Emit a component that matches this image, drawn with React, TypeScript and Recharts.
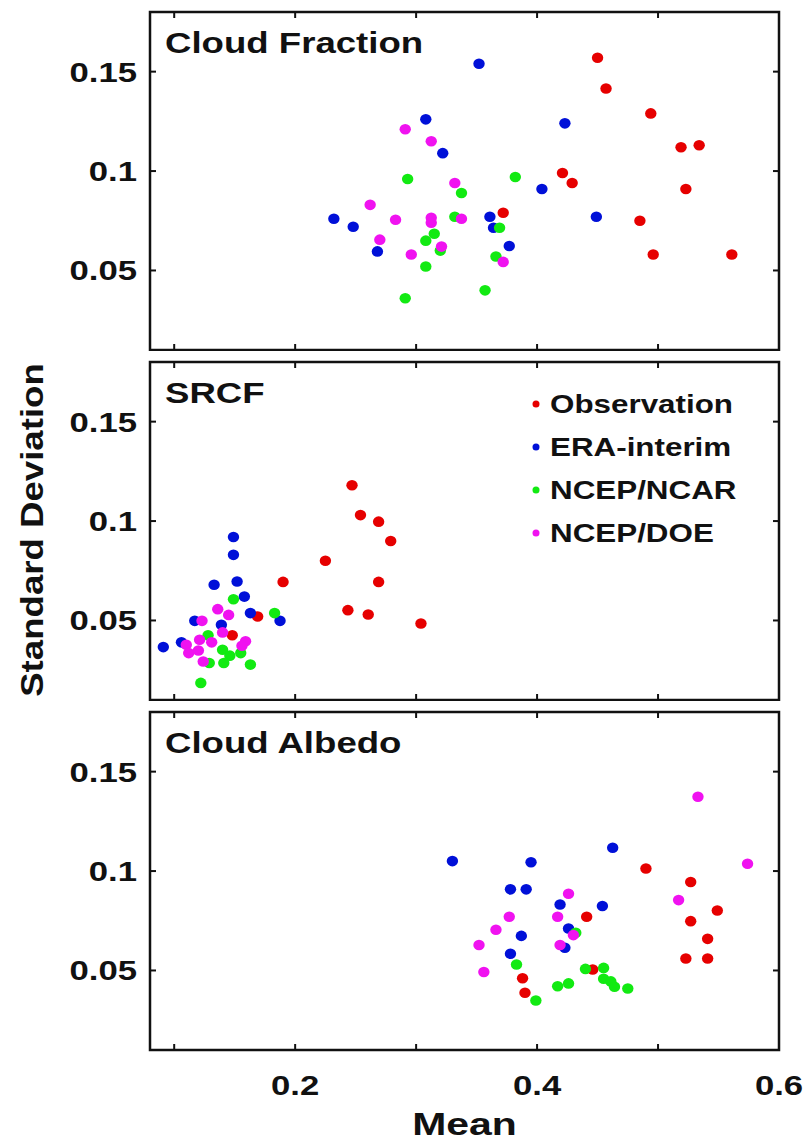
import { ScatterChart, Scatter, XAxis, YAxis, ReferenceArea } from "recharts";

type Pair = [number, number];

const X_TICKS = [0.1, 0.2, 0.3, 0.4, 0.5, 0.6];
const X_LABELLED = [0.2, 0.4, 0.6];
const Y_TICKS = [0.05, 0.1, 0.15];
const X_DOMAIN = [0.08, 0.6];
const Y_DOMAIN = [0.01, 0.18];

const SERIES_NAMES = ["Observation", "ERA-interim", "NCEP/NCAR", "NCEP/DOE"];
const SERIES_COLORS = ["#e60000", "#0010d8", "#12ea12", "#f012f0"];

// [mean, std] per month
const cfObs: Pair[] = [
  [0.45, 0.157], [0.457, 0.1415], [0.494, 0.129], [0.519, 0.112], [0.534, 0.113],
  [0.421, 0.099], [0.429, 0.094], [0.523, 0.091], [0.372, 0.079], [0.485, 0.075],
  [0.496, 0.058], [0.561, 0.058],
];
const cfEra: Pair[] = [
  [0.352, 0.154], [0.308, 0.126], [0.423, 0.124], [0.322, 0.109], [0.404, 0.091],
  [0.449, 0.077], [0.361, 0.077], [0.364, 0.0715], [0.232, 0.076], [0.248, 0.072],
  [0.268, 0.0596], [0.377, 0.0623],
];
const cfNcar: Pair[] = [
  [0.293, 0.096], [0.382, 0.097], [0.3375, 0.089], [0.332, 0.077], [0.369, 0.0715],
  [0.315, 0.0685], [0.308, 0.065], [0.32, 0.06], [0.366, 0.057], [0.308, 0.052],
  [0.291, 0.036], [0.357, 0.04],
];
const cfDoe: Pair[] = [
  [0.291, 0.121], [0.3125, 0.115], [0.332, 0.094], [0.262, 0.083], [0.283, 0.0755],
  [0.3125, 0.0765], [0.3125, 0.074], [0.3375, 0.076], [0.27, 0.0655], [0.321, 0.062],
  [0.296, 0.058], [0.372, 0.0543],
];

const srObs: Pair[] = [
  [0.247, 0.118], [0.254, 0.103], [0.269, 0.0997], [0.279, 0.09], [0.225, 0.08],
  [0.19, 0.0694], [0.269, 0.0694], [0.2436, 0.0552], [0.2604, 0.053], [0.304, 0.0485],
  [0.169, 0.052], [0.148, 0.0426],
];
const srEra: Pair[] = [
  [0.149, 0.092], [0.149, 0.083], [0.152, 0.0696], [0.133, 0.068], [0.158, 0.062],
  [0.163, 0.0537], [0.1875, 0.0498], [0.117, 0.0498], [0.139, 0.0478], [0.106, 0.039],
  [0.091, 0.0366],
];
const srNcar: Pair[] = [
  [0.149, 0.0607], [0.183, 0.0537], [0.128, 0.0426], [0.14, 0.0353], [0.146, 0.0323],
  [0.155, 0.0336], [0.129, 0.0286], [0.141, 0.0286], [0.163, 0.0278], [0.122, 0.0186],
];
const srDoe: Pair[] = [
  [0.136, 0.0557], [0.145, 0.0528], [0.123, 0.0498], [0.14, 0.044], [0.121, 0.0403],
  [0.131, 0.039], [0.11, 0.0378], [0.112, 0.0336], [0.12, 0.0349], [0.124, 0.0294],
  [0.159, 0.0395], [0.156, 0.0373],
];

const caObs: Pair[] = [
  [0.49, 0.1013], [0.527, 0.0945], [0.549, 0.0802], [0.527, 0.0748], [0.441, 0.077],
  [0.541, 0.0659], [0.523, 0.056], [0.541, 0.056], [0.446, 0.0505], [0.388, 0.0461],
  [0.39, 0.0388],
];
const caEra: Pair[] = [
  [0.33, 0.105], [0.395, 0.1044], [0.4625, 0.1117], [0.378, 0.0908], [0.391, 0.0908],
  [0.419, 0.0832], [0.454, 0.0824], [0.426, 0.0711], [0.387, 0.0674], [0.423, 0.0614],
  [0.378, 0.0584],
];
const caNcar: Pair[] = [
  [0.383, 0.053], [0.399, 0.0349], [0.417, 0.0421], [0.426, 0.0435], [0.44, 0.0508],
  [0.455, 0.0513], [0.455, 0.0458], [0.461, 0.0445], [0.464, 0.0418], [0.475, 0.0409],
  [0.432, 0.069],
];
const caDoe: Pair[] = [
  [0.533, 0.1374], [0.574, 0.1037], [0.517, 0.0854], [0.426, 0.0886], [0.417, 0.077],
  [0.377, 0.077], [0.366, 0.0705], [0.352, 0.0628], [0.356, 0.0492], [0.419, 0.0628],
  [0.43, 0.0678],
];

const PANELS = [
  { title: "Cloud Fraction", top: 0, series: [cfObs, cfEra, cfNcar, cfDoe] },
  { title: "SRCF", top: 350, series: [srObs, srEra, srNcar, srDoe] },
  { title: "Cloud Albedo", top: 700, series: [caObs, caEra, caNcar, caDoe] },
];

const FONT = "'Liberation Sans', Arial, Helvetica, sans-serif";
const SX = 1.24; // the figure is stretched sideways
const INK = "#111";
const PLOT_W = 629;
const PLOT_H = 338;
const TICK_LEN = 6;
const X_GAP = 25;
const Y_GAP = 13;

const toPoints = (rows: Pair[]) => rows.map(([x, y]) => ({ x, y }));

const Dot = (color: string) => (props: any) =>
  <ellipse cx={props.cx} cy={props.cy} rx={5.7} ry={5.3} fill={color} />;

// x ticks: inward marks on bottom and top edge, label under the last panel only
const makeXTick = (withLabel: boolean) => ({ x, y, payload }: any) => {
  const base = y - X_GAP;
  const show = withLabel && X_LABELLED.some((v) => Math.abs(v - payload.value) < 1e-9);
  return (
    <g>
      <line x1={x} x2={x} y1={base} y2={base - TICK_LEN} stroke={INK} strokeWidth={2} />
      <line x1={x} x2={x} y1={base - PLOT_H} y2={base - PLOT_H + TICK_LEN} stroke={INK} strokeWidth={2} />
      {show && (
        <g transform={`translate(${x},${y}) scale(${SX},1)`}>
          <text x={0} y={20} textAnchor="middle" fontFamily={FONT} fontSize={28} fontWeight="bold" fill={INK}>
            {payload.value.toFixed(1)}
          </text>
        </g>
      )}
    </g>
  );
};

// y ticks: inward marks on left and right edge, label left
const YTick = ({ x, y, payload }: any) => {
  const base = x + Y_GAP;
  return (
    <g>
      <line x1={base} x2={base + TICK_LEN} y1={y} y2={y} stroke={INK} strokeWidth={2} />
      <line x1={base + PLOT_W} x2={base + PLOT_W - TICK_LEN} y1={y} y2={y} stroke={INK} strokeWidth={2} />
      <g transform={`translate(${x},${y}) scale(${SX},1)`}>
        <text x={0} y={10} textAnchor="end" fontFamily={FONT} fontSize={28} fontWeight="bold" fill={INK}>
          {String(payload.value)}
        </text>
      </g>
    </g>
  );
};

function Panel({ series, last }: { series: Pair[][]; last: boolean }) {
  const axisH = last ? 96 : 1;
  return (
    <ScatterChart width={808} height={12 + PLOT_H + axisH} margin={{ top: 12, right: 29, bottom: 0, left: 0 }}>
      <XAxis
        dataKey="x"
        type="number"
        domain={X_DOMAIN}
        ticks={X_TICKS}
        interval={0}
        height={axisH}
        tickSize={0}
        tickMargin={X_GAP}
        axisLine={false}
        tickLine={false}
        tick={makeXTick(last)}
      />
      <YAxis
        dataKey="y"
        type="number"
        domain={Y_DOMAIN}
        ticks={Y_TICKS}
        interval={0}
        width={150}
        tickSize={0}
        tickMargin={Y_GAP}
        axisLine={false}
        tickLine={false}
        tick={YTick}
      />
      <ReferenceArea
        x1={X_DOMAIN[0]}
        x2={X_DOMAIN[1]}
        y1={Y_DOMAIN[0]}
        y2={Y_DOMAIN[1]}
        fill="none"
        fillOpacity={0}
        stroke={INK}
        strokeWidth={2.5}
        ifOverflow="visible"
      />
      {series.map((rows, i) => (
        <Scatter
          key={SERIES_NAMES[i]}
          name={SERIES_NAMES[i]}
          data={toPoints(rows)}
          fill={SERIES_COLORS[i]}
          shape={Dot(SERIES_COLORS[i])}
          isAnimationActive={false}
        />
      ))}
    </ScatterChart>
  );
}

export default function App() {
  return (
    <div style={{ position: "absolute", left: 0, top: 0, width: 808, height: 1146, background: "#fff", overflow: "hidden" }}>
      {PANELS.map((p, i) => (
        <div key={p.title} style={{ position: "absolute", left: 0, top: p.top }}>
          <Panel series={p.series} last={i === PANELS.length - 1} />
        </div>
      ))}
      <svg width={808} height={1146} style={{ position: "absolute", left: 0, top: 0, pointerEvents: "none" }}>
        {PANELS.map((p) => (
          <g key={p.title} transform={`translate(165,${p.top + 53}) scale(1.22,1)`}>
            <text fontFamily={FONT} fontSize={30} fontWeight="bold" fill={INK}>{p.title}</text>
          </g>
        ))}
        {SERIES_NAMES.map((name, i) => (
          <g key={name}>
            <circle cx={536} cy={404 + i * 43} r={3.5} fill={SERIES_COLORS[i]} />
            <g transform={`translate(550,${413 + i * 43}) scale(1.23,1)`}>
              <text fontFamily={FONT} fontSize={25.5} fontWeight="bold" fill={INK}>{name}</text>
            </g>
          </g>
        ))}
        <g transform={`translate(464.5,1135) scale(1.28,1)`}>
          <text textAnchor="middle" fontFamily={FONT} fontSize={32} fontWeight="bold" fill={INK}>Mean</text>
        </g>
        <g transform="translate(43,530) rotate(-90) scale(1.145,1)">
          <text textAnchor="middle" fontFamily={FONT} fontSize={32} fontWeight="bold" fill={INK}>Standard Deviation</text>
        </g>
      </svg>
    </div>
  );
}
